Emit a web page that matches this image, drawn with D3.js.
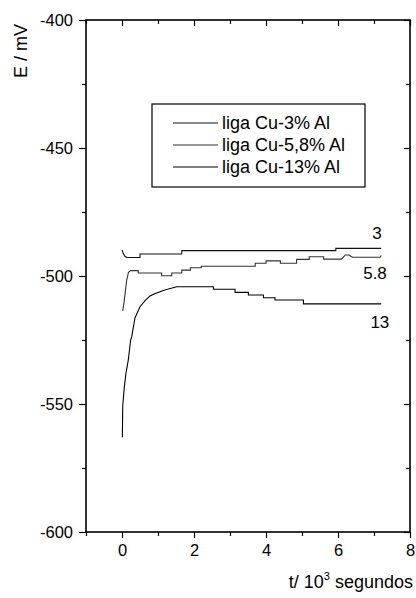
<!DOCTYPE html>
<html>
<head>
<meta charset="utf-8">
<script src="https://cdn.jsdelivr.net/npm/d3@7"></script>
<style>
	body { margin: 0; background: #fff; }
	text { font-family: Arial, "Liberation Sans", sans-serif; fill: #000; }
</style>
</head>
<body>
<div id="chart"></div>
<script>
// ********** OPEN CIRCUIT POTENTIAL CHART **********

// Time axis values (10^3 s) and potentials (mV) for each alloy
const t3 = [0, 0.03, 0.08, 0.14, 0.5, 0.5, 1.66, 1.66, 5.94, 5.94, 7.2];
const e3 = [-489.8, -491, -492.3, -492.8, -492.8, -491.4, -491.4, -490.1, -490.1, -489.2, -489.2];

const t58 = [0.02, 0.06, 0.13, 0.18, 0.24, 0.45, 0.45, 1.1, 1.1, 1.38, 1.38, 1.66, 1.66, 1.9, 1.9, 2.2, 2.2, 3.7, 3.7,
	4.0, 4.0, 4.4, 4.4, 4.85, 4.85, 5.2, 5.2, 5.6, 5.6, 6.1, 6.2, 6.3, 6.4, 7.17, 7.2];
const e58 = [-513.6, -510, -501.6, -498.6, -497.9, -497.9, -498.8, -498.8, -499.9, -499.9, -498.8, -498.8, -497.7, -497.7,
	-496.8, -496.8, -496.2, -496.2, -495.0, -495.0, -494.1, -494.1, -495.0, -495.0, -493.5, -493.5, -492.5, -492.5,
	-493.4, -493.4, -491.8, -491.8, -492.7, -492.7, -492.0];

const t13 = [0.01, 0.02, 0.06, 0.11, 0.175, 0.24, 0.27, 0.36, 0.5, 0.64, 0.78, 0.92, 1.19, 1.52, 2.54, 2.54, 3.14, 3.14,
	3.51, 3.51, 3.93, 3.93, 4.25, 4.25, 5.04, 5.04, 7.2];
const e13 = [-563, -551, -544, -538, -532.8, -525, -523.7, -516.4, -512, -509.6, -507.8, -506.8, -505.5, -504.2, -504.2,
	-505.2, -505.2, -506.4, -506.4, -507.4, -507.4, -508.5, -508.5, -509.4, -509.4, -510.9, -510.9];

// Legend names, end labels and line colours
const seriesNames = ['liga Cu-3% Al', 'liga Cu-5,8% Al', 'liga Cu-13% Al'];
const endLabels = ['3', '5.8', '13'];
const endLabelPos = [[6.95, -485.5], [6.7, -501], [6.9, -520.5]];
const lineColors = ['#111', '#333', '#000'];

// Tick values
const xTicks = [0, 2, 4, 6, 8];
const xMinorTicks = [-1, 1, 3, 5, 7];
const yTicks = [-600, -550, -500, -450, -400];
const yMinorTicks = [-575, -525, -475, -425];

const width = 416;
const height = 598;
const margin = { top: 20, left: 86, right: 6, bottom: 66 };
const innerW = width - margin.left - margin.right;
const innerH = height - margin.top - margin.bottom;

// Build series from the arrays
const series = [[t3, e3], [t58, e58], [t13, e13]].map(([t, e]) => t.map((d, i) => ({ t: d, e: e[i] })));

const svg = d3.select('#chart')
	.append('svg')
	.attr('width', width)
	.attr('height', height);

const g = svg.append('g')
	.attr('transform', `translate(${margin.left}, ${margin.top})`);

const x = d3.scaleLinear().domain([-1, 8]).range([0, innerW]);
const y = d3.scaleLinear().domain([-600, -400]).range([innerH, 0]);

// Draw an axis with its major and minor ticks (plain hyphen for negatives)
const drawAxis = (axisFn, scale, major, minor, size, minorSize, transform, labels) => {
	const ax = g.append('g').attr('transform', transform);
	ax.call(axisFn(scale).tickValues(major).tickSize(size).tickPadding(6)
		.tickFormat(labels ? (d => String(d)) : ''));
	ax.append('g').call(axisFn(scale).tickValues(minor).tickSize(minorSize).tickFormat(''));
	ax.selectAll('.domain').remove();
	ax.selectAll('line').attr('stroke', '#000').attr('stroke-width', 1.2);
	ax.selectAll('text').style('font-size', '16.5px').attr('fill', '#000');
	return ax;
};

drawAxis(d3.axisLeft, y, yTicks, yMinorTicks, 7, 4, 'translate(0,0)', true);
drawAxis(d3.axisBottom, x, xTicks, xMinorTicks, 6, 4, `translate(0,${innerH})`, true);
drawAxis(d3.axisTop, x, xTicks, xMinorTicks, -6, -4, 'translate(0,0)', false);
drawAxis(d3.axisRight, y, yTicks, yMinorTicks, -6, -4, `translate(${innerW},0)`, false);

// Frame
g.append('rect')
	.attr('width', innerW)
	.attr('height', innerH)
	.attr('fill', 'none')
	.attr('stroke', '#000')
	.attr('stroke-width', 1.6);

// Curves
const line = d3.line()
	.x(d => x(d.t))
	.y(d => y(d.e));

g.selectAll('path.curve')
	.data(series)
	.enter()
	.append('path')
	.attr('class', 'curve')
	.attr('d', line)
	.attr('fill', 'none')
	.attr('stroke', (d, i) => lineColors[i])
	.attr('stroke-width', 1.1);

// Labels at the end of each curve
g.selectAll('text.end-label')
	.data(endLabels)
	.enter()
	.append('text')
	.attr('class', 'end-label')
	.attr('x', (d, i) => x(endLabelPos[i][0]))
	.attr('y', (d, i) => y(endLabelPos[i][1]))
	.style('font-size', '17px')
	.text(d => d);

// Legend box
const legend = svg.append('g')
	.attr('transform', 'translate(152, 104)');

legend.append('rect')
	.attr('width', 213)
	.attr('height', 83)
	.attr('fill', '#fff')
	.attr('stroke', '#000')
	.attr('stroke-width', 1.2);

const rows = legend.selectAll('g.row')
	.data(seriesNames)
	.enter()
	.append('g')
	.attr('class', 'row')
	.attr('transform', (d, i) => `translate(0, ${19 + i * 22})`);

rows.append('line')
	.attr('x1', 21)
	.attr('x2', 66)
	.attr('stroke', (d, i) => lineColors[i])
	.attr('stroke-width', 1.1);

rows.append('text')
	.attr('x', 70)
	.attr('dy', '0.35em')
	.style('font-size', '18px')
	.text(d => d);

// Axis titles
svg.append('text')
	.attr('transform', 'translate(27, 51) rotate(-90)')
	.attr('text-anchor', 'middle')
	.style('font-size', '18px')
	.text('E / mV');

const xTitle = svg.append('text')
	.attr('x', 413)
	.attr('y', 588)
	.attr('text-anchor', 'end')
	.style('font-size', '18px');

xTitle.append('tspan').text('t/ 10');
xTitle.append('tspan').attr('dy', -8).style('font-size', '11px').text('3');
xTitle.append('tspan').attr('dy', 8).text(' segundos');
</script>
</body>
</html>
